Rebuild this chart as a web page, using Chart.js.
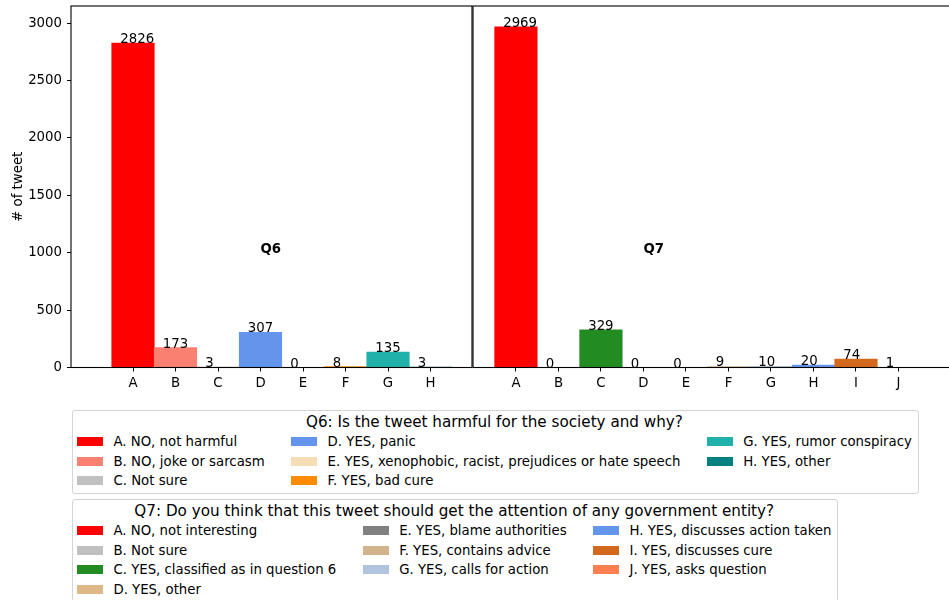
<!DOCTYPE html>
<html lang="en">
<head>
    <meta charset="UTF-8">
    <title>Q6 / Q7 tweet counts</title>
    <script src="https://cdn.jsdelivr.net/npm/chart.js"></script>
    <style>
        * { margin: 0; padding: 0; box-sizing: border-box; }
        body {
            width: 949px; height: 600px; overflow: hidden; position: relative;
            background: #fff; font-family: "DejaVu Sans", sans-serif; color: #000;
        }
        canvas { position: absolute; top: 0; }
        #chartQ6 { left: 0; }
        #chartQ7 { left: 472px; }
        .legend {
            position: absolute; left: 72px;
            border: 1px solid #d4d4d4; border-radius: 3px;
            padding: 2px 6px 2px 4px; background: #fff;
        }
        #legendQ6 { top: 410px; }
        #legendQ7 { top: 499px; }
        .lg-title { font-size: 15.2px; line-height: 19px; text-align: center; white-space: nowrap; }
        .lg-grid { display: grid; column-gap: 26.5px; font-size: 13.3px; }
        .lg-item { display: flex; align-items: center; white-space: nowrap; height: 19.5px; }
        .lg-patch { width: 26px; height: 9px; margin-right: 10.4px; flex: none; }
    </style>
</head>
<body>
    <canvas id="chartQ6" width="474" height="400"></canvas>
    <canvas id="chartQ7" width="490" height="400"></canvas>
    <div class="legend" id="legendQ6"></div>
    <div class="legend" id="legendQ7"></div>

    <script>
        // data
        const q6Labels = ["A", "B", "C", "D", "E", "F", "G", "H"];
        const q6Counts = [2826, 173, 3, 307, 0, 8, 135, 3];
        const q6Names = [
            "A. NO, not harmful", "B. NO, joke or sarcasm", "C. Not sure", "D. YES, panic",
            "E. YES, xenophobic, racist, prejudices or hate speech", "F. YES, bad cure",
            "G. YES, rumor conspiracy", "H. YES, other"
        ];
        const q6Title = "Q6: Is the tweet harmful for the society and why?";

        const q7Labels = ["A", "B", "C", "D", "E", "F", "G", "H", "I", "J"];
        const q7Counts = [2969, 0, 329, 0, 0, 9, 10, 20, 74, 1];
        const q7Names = [
            "A. NO, not interesting", "B. Not sure", "C. YES, classified as in question 6",
            "D. YES, other", "E. YES, blame authorities", "F. YES, contains advice",
            "G. YES, calls for action", "H. YES, discusses action taken",
            "I. YES, discusses cure", "J. YES, asks question"
        ];
        const q7Title = "Q7: Do you think that this tweet should get the attention of any government entity?";

        const yTicks = [0, 500, 1000, 1500, 2000, 2500, 3000];

        // colours
        const q6Colors = ["red", "salmon", "silver", "cornflowerblue", "wheat", "darkorange", "lightseagreen", "teal"];
        const q7Colors = ["red", "silver", "forestgreen", "burlywood", "gray", "tan", "lightsteelblue", "cornflowerblue", "chocolate", "coral"];

        const FONT = '"DejaVu Sans", sans-serif';
        Chart.defaults.font.family = FONT;
        Chart.defaults.font.size = 13.3;
        Chart.defaults.color = "#000";

        // counts on top of the bars, panel name, and the box around the axes
        const panelDecor = {
            id: "panelDecor",
            afterDatasetsDraw(chart, args, opts) {
                const { ctx, chartArea: a, scales: { x, y } } = chart;
                ctx.save();
                ctx.fillStyle = "#000";
                ctx.textAlign = "left";
                ctx.textBaseline = "alphabetic";
                ctx.font = "13.3px " + FONT;
                chart.data.datasets[0].data.forEach(p => {
                    ctx.fillText(String(p.y), x.getPixelForValue(p.x - 0.3), y.getPixelForValue(p.y));
                });
                ctx.font = "bold 13.3px " + FONT;
                ctx.fillText(opts.name, x.getPixelForValue(3), y.getPixelForValue(1000));
                ctx.strokeStyle = "#000";
                ctx.lineWidth = 1.1;
                ctx.strokeRect(a.left, a.top, a.right - a.left, a.bottom - a.top);
                ctx.restore();
            }
        };

        function makePanel(canvasId, name, labels, counts, colors, xMin, xMax, showY, pad) {
            const points = counts.map((v, i) => ({ x: i, y: v }));
            return new Chart(document.getElementById(canvasId), {
                type: "bar",
                data: {
                    datasets: [{
                        data: points,
                        backgroundColor: colors,
                        borderWidth: 0,
                        categoryPercentage: 1,
                        barPercentage: 1
                    }]
                },
                plugins: [panelDecor],
                options: {
                    responsive: false,
                    animation: false,
                    layout: { padding: pad },
                    plugins: {
                        legend: { display: false },
                        tooltip: { enabled: false },
                        panelDecor: { name: name }
                    },
                    scales: {
                        x: {
                            type: "linear",
                            min: xMin,
                            max: xMax,
                            offset: false,
                            grid: { display: true, offset: false, drawOnChartArea: false, color: "#000", tickLength: 4, lineWidth: 1 },
                            border: { display: false },
                            ticks: {
                                stepSize: 1,
                                includeBounds: false,
                                maxRotation: 0,
                                autoSkip: false,
                                padding: 4,
                                callback: v => labels[v]
                            },
                            afterBuildTicks: s => {
                                s.ticks = s.ticks.filter(t => Number.isInteger(t.value) && t.value >= 0 && t.value < labels.length);
                            },
                            afterFit: s => {
                                s.height = 32.5;
                                s.paddingLeft = 0;
                                s.paddingRight = 0;
                            }
                        },
                        y: {
                            display: showY,
                            min: 0,
                            max: 3150,
                            grid: { display: true, drawOnChartArea: false, color: "#000", tickLength: 4, lineWidth: 1 },
                            border: { display: false },
                            title: { display: showY, text: "# of tweet", padding: { top: 11, bottom: 0 } },
                            ticks: { includeBounds: false, padding: 5, callback: v => String(v) },
                            afterBuildTicks: s => { s.ticks = yTicks.map(v => ({ value: v })); },
                            afterFit: s => {
                                if (showY) s.width = 71;
                                s.paddingTop = 0;
                                s.paddingBottom = 0;
                            }
                        }
                    }
                }
            });
        }

        // axes box: left 71..472, right 473..958 (cut by the window), 42.5 px per bar
        makePanel("chartQ6", "Q6", q6Labels, q6Counts, q6Colors, -1.459, 7.976, true,
            { top: 6, right: 2, left: 0, bottom: 0 });
        makePanel("chartQ7", "Q7", q7Labels, q7Counts, q7Colors, -1.01, 10.40, false,
            { top: 6, right: 4, left: 1, bottom: 0 });

        // legends, filled column by column like matplotlib with ncol=3
        function buildLegend(id, title, names, colors, ncol) {
            const box = document.getElementById(id);
            const t = document.createElement("div");
            t.className = "lg-title";
            t.textContent = title;
            box.appendChild(t);
            const grid = document.createElement("div");
            grid.className = "lg-grid";
            const base = Math.floor(names.length / ncol);
            const extra = names.length % ncol;
            let idx = 0;
            for (let c = 0; c < ncol; c++) {
                const n = base + (c < extra ? 1 : 0);
                for (let r = 0; r < n; r++, idx++) {
                    const item = document.createElement("div");
                    item.className = "lg-item";
                    item.style.gridColumn = c + 1;
                    item.style.gridRow = r + 1;
                    const patch = document.createElement("span");
                    patch.className = "lg-patch";
                    patch.style.background = colors[idx];
                    const txt = document.createElement("span");
                    txt.textContent = names[idx];
                    item.appendChild(patch);
                    item.appendChild(txt);
                    grid.appendChild(item);
                }
            }
            box.appendChild(grid);
        }

        buildLegend("legendQ6", q6Title, q6Names, q6Colors, 3);
        buildLegend("legendQ7", q7Title, q7Names, q7Colors, 3);
    </script>
</body>
</html>
